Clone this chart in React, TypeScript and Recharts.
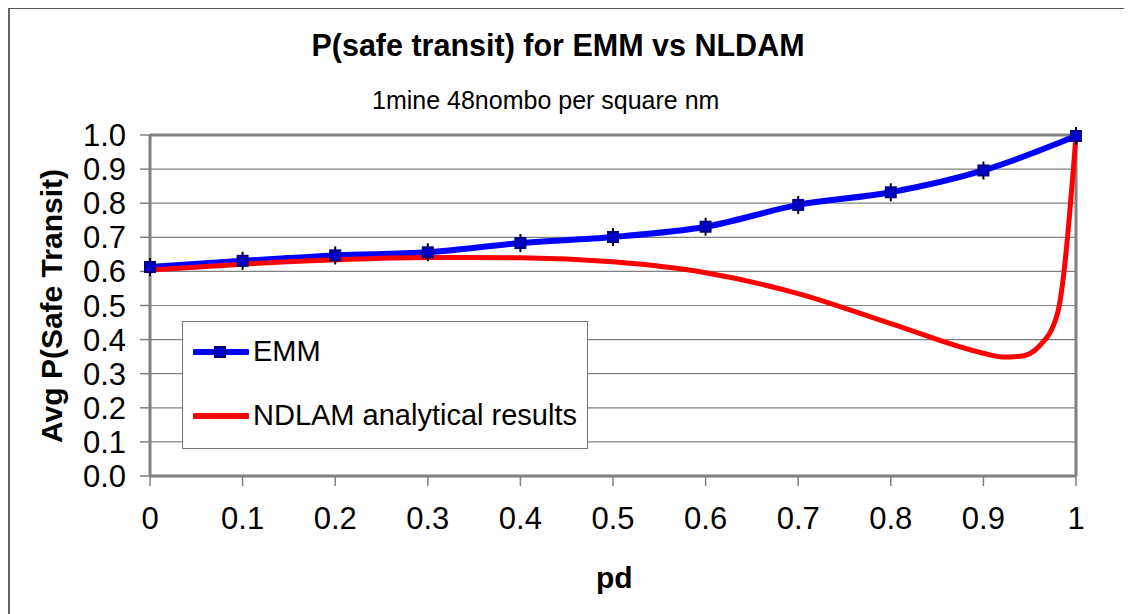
import { LineChart, Line, XAxis, YAxis, CartesianGrid, Legend, ReferenceLine } from 'recharts'

const pdTicks = [0, 0.1, 0.2, 0.3, 0.4, 0.5, 0.6, 0.7, 0.8, 0.9, 1]
const yTicks = [0, 0.1, 0.2, 0.3, 0.4, 0.5, 0.6, 0.7, 0.8, 0.9, 1]

const emmPd = [0, 0.1, 0.2, 0.3, 0.4, 0.5, 0.6, 0.7, 0.8, 0.9, 1]
const emmValues = [0.613, 0.631, 0.647, 0.656, 0.683, 0.701, 0.731, 0.795, 0.832, 0.896, 0.997]

const ndlamPd = [0, 0.1, 0.2, 0.3, 0.4, 0.5, 0.6, 0.7, 0.8, 0.9, 0.92, 0.94, 0.96, 0.98, 1]
const ndlamValues = [0.604, 0.621, 0.634, 0.641, 0.64, 0.628, 0.596, 0.535, 0.447, 0.36, 0.349, 0.351, 0.38, 0.477, 0.997]

const emmData = emmPd.map((pd, i) => ({ pd, value: emmValues[i] }))
const ndlamData = ndlamPd.map((pd, i) => ({ pd, value: ndlamValues[i] }))

const font = '"Liberation Sans", Arial, sans-serif'
const gray = '#808080'

const EmmDot = (props: any) => {
    const { cx, cy } = props
    if (cx == null || cy == null) return null
    return (
        <g>
            <line x1={cx} x2={cx} y1={cy - 9} y2={cy + 9} stroke="#000" strokeWidth={2} />
            <rect x={cx - 5} y={cy - 5} width={10} height={10} fill="#0000cc" stroke="#000080" strokeWidth={2} />
        </g>
    )
}

const LegendBox = () => (
    <div
        style={{
            width: 404,
            height: 126,
            border: '1px solid #777',
            background: '#fff',
            fontFamily: font,
            fontSize: 29,
            color: '#000',
            position: 'relative',
        }}
    >
        <div style={{ position: 'absolute', left: 10, top: 13, display: 'flex', alignItems: 'center' }}>
            <svg width={56} height={16}>
                <line x1={2} x2={54} y1={8} y2={8} stroke="#0000ff" strokeWidth={6} strokeLinecap="round" />
                <rect x={22} y={3} width={10} height={10} fill="#0000cc" stroke="#000080" strokeWidth={2} />
            </svg>
            <span style={{ marginLeft: 4 }}>EMM</span>
        </div>
        <div style={{ position: 'absolute', left: 10, top: 77, display: 'flex', alignItems: 'center' }}>
            <svg width={56} height={16}>
                <line x1={2} x2={54} y1={8} y2={8} stroke="#ff0000" strokeWidth={6} strokeLinecap="round" />
            </svg>
            <span style={{ marginLeft: 4 }}>NDLAM analytical results</span>
        </div>
    </div>
)

export default function App() {
    return (
        <div style={{ position: 'relative', width: 1124, height: 608, top: -2, fontFamily: font, overflow: 'hidden' }}>
            <div style={{ position: 'absolute', left: 0, top: 0, width: 1124, height: 3, background: '#555' }} />
            <div style={{ position: 'absolute', left: 0, top: 0, width: 2, height: 608, background: '#666' }} />
            <div style={{ position: 'absolute', left: 0, width: 1100, top: 22, textAlign: 'center', fontSize: 30.5, fontWeight: 'bold' }}>
                P(safe transit) for EMM vs NLDAM
            </div>
            <div style={{ position: 'absolute', left: 364, top: 80, fontSize: 25 }}>
                1mine 48nombo per square nm
            </div>
            <div
                style={{
                    position: 'absolute',
                    left: 44,
                    top: 300,
                    fontSize: 30,
                    fontWeight: 'bold',
                    whiteSpace: 'nowrap',
                    transform: 'translate(-50%, -50%) rotate(-90deg)',
                }}
            >
                Avg P(Safe Transit)
            </div>
            <div style={{ position: 'absolute', left: 588, top: 555, fontSize: 30, fontWeight: 'bold' }}>pd</div>
            <div style={{ position: 'absolute', left: 0, top: 0 }}>
                <LineChart width={1124} height={608} margin={{ top: 129, right: 56, left: 62, bottom: 58 }}>
                    <CartesianGrid vertical={false} stroke={gray} strokeWidth={1.2} />
                    <XAxis
                        dataKey="pd"
                        type="number"
                        domain={[0, 1]}
                        ticks={pdTicks}
                        tickFormatter={(v) => String(v)}
                        height={80}
                        tickSize={10}
                        tickMargin={21}
                        axisLine={{ stroke: gray, strokeWidth: 3 }}
                        tickLine={{ stroke: gray, strokeWidth: 1.5 }}
                        tick={{ fill: '#000', fontSize: 31, fontFamily: font }}
                        allowDuplicatedCategory={false}
                    />
                    <YAxis
                        dataKey="value"
                        type="number"
                        domain={[0, 1]}
                        ticks={yTicks}
                        tickFormatter={(v) => v.toFixed(1)}
                        width={80}
                        tickSize={10}
                        tickMargin={14}
                        axisLine={{ stroke: gray, strokeWidth: 3 }}
                        tickLine={{ stroke: gray, strokeWidth: 1.5 }}
                        tick={{ fill: '#000', fontSize: 31, fontFamily: font }}
                        interval={0}
                    />
                    <ReferenceLine y={1} stroke={gray} strokeWidth={3} />
                    <ReferenceLine x={1} stroke={gray} strokeWidth={3} />
                    <Legend
                        layout="vertical"
                        align="center"
                        verticalAlign="middle"
                        wrapperStyle={{ left: 174, top: 315, width: 406, height: 128 }}
                        content={() => <LegendBox />}
                    />
                    <Line
                        data={emmData}
                        dataKey="value"
                        name="EMM"
                        type="monotone"
                        stroke="#0000ff"
                        strokeWidth={6}
                        dot={<EmmDot />}
                        isAnimationActive={false}
                    />
                    <Line
                        data={ndlamData}
                        dataKey="value"
                        name="NDLAM analytical results"
                        type="monotone"
                        stroke="#ff0000"
                        strokeWidth={5}
                        dot={false}
                        isAnimationActive={false}
                    />
                </LineChart>
            </div>
        </div>
    )
}
